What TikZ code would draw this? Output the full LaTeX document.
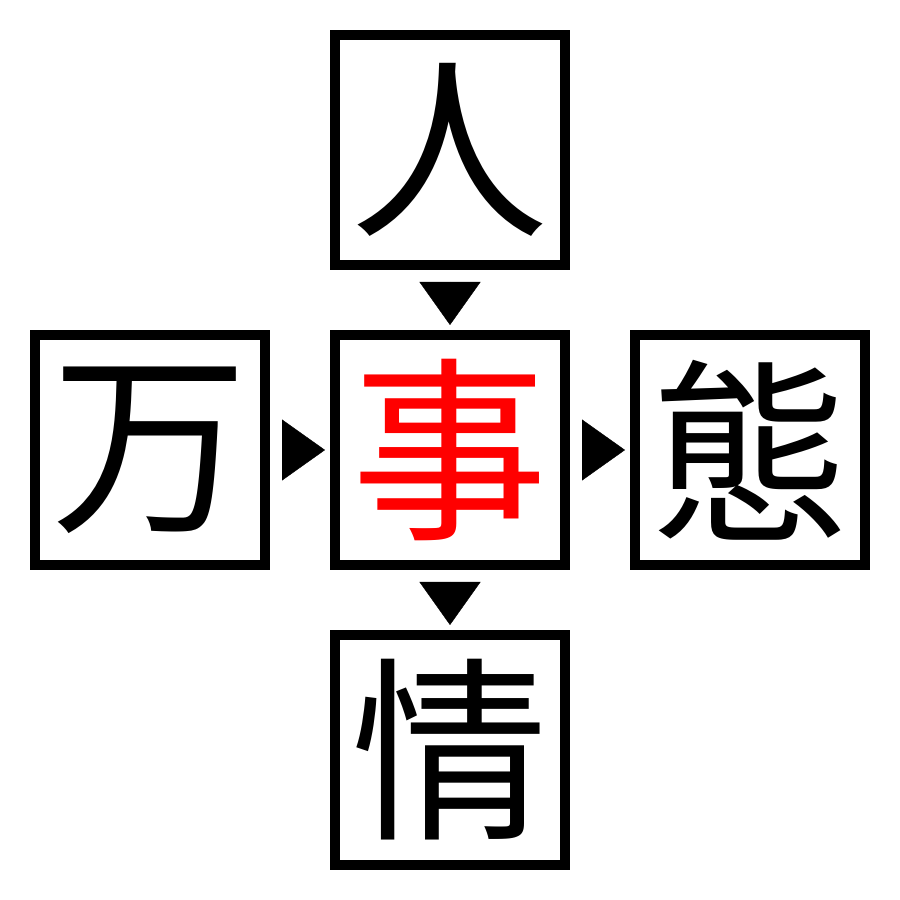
\documentclass[tikz,border=0pt]{standalone}
\usepackage{fontspec}
\usepackage{tikz}
\usepackage{xcolor}
\usetikzlibrary{positioning,arrows.meta}
\newfontfamily\cjk{Noto Sans CJK JP}
\tikzset{
    cell/.style={
        rectangle, draw, line width=1mm,
        minimum size=2.3cm, inner sep=0pt,
        align=center, font=\cjk\fontsize{56}{60}\selectfont
    },
    pointer/.style={
        -{Triangle[length=4.3mm,width=6.1mm]},
        line width=0.1pt, shorten <=1.2mm, shorten >=0.5mm
    }
}
\begin{document}
\begin{tikzpicture}[node distance=0.6cm and 0.6cm]
        \useasboundingbox (0,0) rectangle (9,9);

        % Centre
        \node[cell, text=red] (hub) at (4.5,4.5) {事};

        % Neighbours
        \node[cell, above=of hub] (top) {人};
        \node[cell, left=of hub] (left) {万};
        \node[cell, right=of hub] (right) {態};
        \node[cell, below=of hub] (bottom) {情};

        % Arrows
        \draw[pointer] (top) -- (hub);
        \draw[pointer] (left) -- (hub);
        \draw[pointer] (hub) -- (right);
        \draw[pointer] (hub) -- (bottom);

    \end{tikzpicture}
\end{document}
